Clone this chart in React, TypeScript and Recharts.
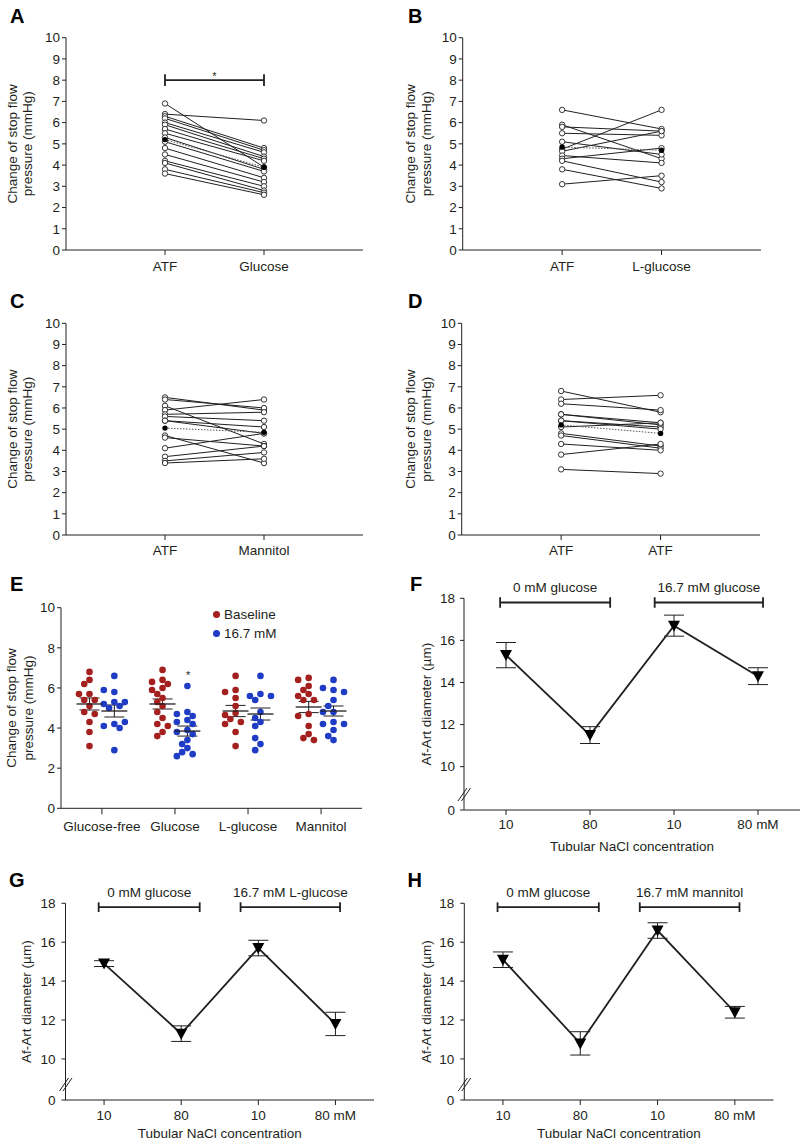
import React from "react";
import {
  ScatterChart,
  Scatter,
  LineChart,
  Line,
  XAxis,
  YAxis,
  ReferenceLine,
  ReferenceDot,
  ErrorBar,
  Legend,
} from "recharts";

const FONT = '"Liberation Sans", Arial, Helvetica, sans-serif';
const INK = "#231f20";
const RED = "#a3201f";
const BLUE = "#1f3cc4";

// A: ATF -> 16.7 mM glucose (paired, same index = same nephron)
const atfA = [6.9, 6.4, 6.3, 6.2, 6.0, 5.9, 5.7, 5.5, 5.3, 5.1, 4.8, 4.5, 4.2, 4.1, 3.8, 3.6];
const glucoseA = [3.9, 6.1, 4.8, 4.7, 4.6, 4.4, 4.3, 4.2, 3.8, 3.7, 3.4, 3.2, 3.0, 2.8, 2.7, 2.6];
const meanA = [5.2, 3.9];

// B: ATF -> L-glucose
const atfB = [6.6, 5.9, 5.8, 5.5, 5.1, 4.75, 4.65, 4.45, 4.3, 4.2, 3.8, 3.1];
const lglucoseB = [5.7, 4.3, 5.6, 5.4, 4.5, 6.6, 5.6, 4.1, 4.8, 3.2, 2.9, 3.5];
const meanB = [4.85, 4.7];

// C: ATF -> mannitol
const atfC = [6.5, 6.4, 6.1, 5.9, 5.7, 5.6, 5.4, 5.4, 4.7, 4.6, 4.1, 3.7, 3.5, 3.4];
const mannitolC = [5.9, 6.0, 4.3, 6.4, 5.8, 5.4, 5.1, 4.8, 3.4, 4.2, 4.8, 4.2, 3.9, 3.6];
const meanC = [5.05, 4.85];

// D: ATF -> ATF (time control)
const atfD = [6.8, 6.4, 6.2, 5.7, 5.7, 5.4, 5.4, 5.1, 4.8, 4.7, 4.3, 3.8, 3.1];
const atfD2 = [5.8, 6.6, 5.9, 5.3, 5.2, 5.1, 5.0, 5.3, 4.2, 4.1, 4.0, 4.3, 2.9];
const meanD = [5.2, 4.8];

// E: summary of A-D
const eCategories = ["Glucose-free", "Glucose", "L-glucose", "Mannitol"];
const eBaseline = [atfD, atfA, atfB, atfC];
const eHigh = [atfD2, glucoseA, lglucoseB, mannitolC];
const eBaseMean = [5.2, 5.2, 4.85, 5.05];
const eBaseSem = [0.3, 0.25, 0.28, 0.28];
const eHighMean = [4.85, 3.85, 4.7, 4.85];
const eHighSem = [0.3, 0.25, 0.3, 0.25];

// F-H: Af-Art diameter (um)
const naclTicks = ["10", "80", "10", "80 mM"];
const diamF = [15.3, 11.5, 16.7, 14.3];
const semF = [0.6, 0.4, 0.5, 0.4];
const diamG = [14.9, 11.3, 15.7, 11.8];
const semG = [0.15, 0.4, 0.4, 0.6];
const diamH = [15.1, 10.8, 16.6, 12.4];
const semH = [0.4, 0.6, 0.4, 0.3];

const tickStyle = { fill: INK, fontSize: 13.5, fontFamily: FONT };

function yTitle(lines: string[], xs: number[], cy: number) {
  return () => (
    <g>
      {lines.map((t, i) => (
        <text
          key={i}
          x={xs[i]}
          y={cy}
          transform={`rotate(-90 ${xs[i]} ${cy})`}
          textAnchor="middle"
          dominantBaseline="central"
          fill={INK}
          fontSize={13.5}
          fontFamily={FONT}
        >
          {t}
        </text>
      ))}
    </g>
  );
}

function xTitle(text: string, cx: number, y: number) {
  return () => (
    <text x={cx} y={y} textAnchor="middle" fill={INK} fontSize={13.5} fontFamily={FONT}>
      {text}
    </text>
  );
}

function Letter({ ch, left, baseline }: { ch: string; left: number; baseline: number }) {
  return (
    <div
      style={{
        position: "absolute",
        left,
        top: baseline - 16.9,
        fontSize: 20,
        lineHeight: "20px",
        fontWeight: "bold",
        fontFamily: FONT,
        color: "#000",
      }}
    >
      {ch}
    </div>
  );
}

const noShape = () => <g />;
const openDot = (p: any) => (
  <circle cx={p.cx} cy={p.cy} r={2.7} fill="#fff" stroke={INK} strokeWidth={0.9} />
);
const filledDot = (p: any) => <circle cx={p.cx} cy={p.cy} r={2.7} fill="#000" />;

type Plot = { left: number; right: number; top: number; bottom: number };

function PairedPanel(props: {
  x: number;
  y: number;
  plot: Plot;
  before: number[];
  after: number[];
  means: number[];
  names: string[];
  titleXs: number[];
  tickGap: number;
  star?: boolean;
}) {
  const { x, y, plot, before, after, means, names, titleXs, tickGap, star } = props;
  const W = 400;
  const H = 290;
  const cy = (plot.top + plot.bottom) / 2;
  const pairs = before.map((v, i) => [
    { x: 1, y: v },
    { x: 2, y: after[i] },
  ]);
  const open = [...before.map((v) => ({ x: 1, y: v })), ...after.map((v) => ({ x: 2, y: v }))];
  const meanPts = means.map((v, i) => ({ x: i + 1, y: v }));
  return (
    <div style={{ position: "absolute", left: x, top: y, width: W, height: H }}>
      <ScatterChart
        width={W}
        height={H}
        margin={{ top: plot.top, right: W - plot.right, bottom: 0, left: 0 }}
      >
        <XAxis
          type="number"
          dataKey="x"
          domain={[0, 3]}
          ticks={[1, 2]}
          interval={0}
          tickFormatter={(v: number) => names[v - 1]}
          height={H - plot.bottom}
          stroke={INK}
          tickSize={5}
          tickMargin={tickGap - 5}
          tick={tickStyle}
        />
        <YAxis
          type="number"
          dataKey="y"
          domain={[0, 10]}
          ticks={[0, 1, 2, 3, 4, 5, 6, 7, 8, 9, 10]}
          interval={0}
          width={plot.left}
          stroke={INK}
          tickSize={4}
          tickMargin={2}
          tick={tickStyle}
          label={yTitle(["Change of stop flow", "pressure (mmHg)"], titleXs, cy)}
        />
        {pairs.map((d, i) => (
          <Scatter
            key={i}
            data={d}
            fill={INK}
            line={{ stroke: INK, strokeWidth: 1 }}
            shape={noShape}
            isAnimationActive={false}
          />
        ))}
        <Scatter
          data={meanPts}
          fill="#555"
          line={{ stroke: "#555", strokeWidth: 1, strokeDasharray: "1.5 1.5" }}
          shape={noShape}
          isAnimationActive={false}
        />
        <Scatter data={open} shape={openDot} isAnimationActive={false} />
        <Scatter data={meanPts} shape={filledDot} isAnimationActive={false} />
        {star && (
          <>
            <ReferenceLine
              segment={[
                { x: 1, y: 8 },
                { x: 2, y: 8 },
              ]}
              stroke={INK}
              strokeWidth={1.8}
              ifOverflow="visible"
              label={{ value: "*", position: "top", offset: 0, fill: INK, fontSize: 11, fontFamily: FONT }}
            />
            <ReferenceLine
              segment={[
                { x: 1, y: 7.72 },
                { x: 1, y: 8.28 },
              ]}
              stroke={INK}
              strokeWidth={1.8}
              ifOverflow="visible"
            />
            <ReferenceLine
              segment={[
                { x: 2, y: 7.72 },
                { x: 2, y: 8.28 },
              ]}
              stroke={INK}
              strokeWidth={1.8}
              ifOverflow="visible"
            />
          </>
        )}
      </ScatterChart>
    </div>
  );
}

// simple beeswarm placement so equal values do not sit on top of each other
function swarm(values: number[], center: number) {
  const pxX = 73.06;
  const pxY = 20.06;
  const step = 0.072;
  const placed: { x: number; y: number }[] = [];
  values.forEach((v) => {
    for (let k = 0; k < 30; k++) {
      const off = k === 0 ? 0 : (k % 2 ? -1 : 1) * Math.ceil(k / 2) * step;
      const px = center + off;
      const ok = placed.every((p) => Math.hypot((p.x - px) * pxX, (p.y - v) * pxY) >= 6.2);
      if (ok) {
        placed.push({ x: px, y: v });
        break;
      }
    }
  });
  return placed;
}

const colorDot = (c: string) => (p: any) => <circle cx={p.cx} cy={p.cy} r={3.3} fill={c} />;
const meanMark = (p: any) => (
  <line x1={p.cx - 13} x2={p.cx + 13} y1={p.cy} y2={p.cy} stroke={INK} strokeWidth={1.3} />
);

function GroupPanel() {
  const W = 400;
  const H = 290;
  const plot = { left: 61, right: 362, top: 37.7, bottom: 238.3 };
  const cy = (plot.top + plot.bottom) / 2;
  const redDots = eBaseline.flatMap((vals, i) => swarm(vals, i + 1 - 0.17));
  const blueDots = eHigh.flatMap((vals, i) => swarm(vals, i + 1 + 0.17));
  const baseMeans = eBaseMean.map((m, i) => ({ x: i + 1 - 0.17, y: m, err: eBaseSem[i] }));
  const highMeans = eHighMean.map((m, i) => ({ x: i + 1 + 0.17, y: m, err: eHighSem[i] }));
  const legendItems = [
    { name: "Baseline", color: RED },
    { name: "16.7 mM", color: BLUE },
  ];
  return (
    <div style={{ position: "absolute", left: 0, top: 570, width: W, height: H }}>
      <ScatterChart
        width={W}
        height={H}
        margin={{ top: plot.top, right: W - plot.right, bottom: 0, left: 0 }}
      >
        <XAxis
          type="number"
          dataKey="x"
          domain={[0.44, 4.56]}
          ticks={[1, 2, 3, 4]}
          interval={0}
          tickFormatter={(v: number) => eCategories[v - 1]}
          height={H - plot.bottom}
          stroke={INK}
          tickSize={6}
          tickMargin={7.4}
          tick={tickStyle}
        />
        <YAxis
          type="number"
          dataKey="y"
          domain={[0, 10]}
          ticks={[0, 2, 4, 6, 8, 10]}
          interval={0}
          width={plot.left}
          stroke={INK}
          tickSize={4}
          tickMargin={2}
          tick={tickStyle}
          label={yTitle(["Change of stop flow", "pressure (mmHg)"], [11, 28], cy)}
        />
        <Scatter data={redDots} shape={colorDot(RED)} isAnimationActive={false} />
        <Scatter data={blueDots} shape={colorDot(BLUE)} isAnimationActive={false} />
        <Scatter data={baseMeans} shape={meanMark} isAnimationActive={false}>
          <ErrorBar dataKey="err" direction="y" width={10} stroke={INK} strokeWidth={1} />
        </Scatter>
        <Scatter data={highMeans} shape={meanMark} isAnimationActive={false}>
          <ErrorBar dataKey="err" direction="y" width={10} stroke={INK} strokeWidth={1} />
        </Scatter>
        <ReferenceDot
          x={2.18}
          y={6.62}
          r={1}
          fill="none"
          stroke="none"
          ifOverflow="visible"
          label={{ value: "*", position: "center", fill: INK, fontSize: 11, fontFamily: FONT }}
        />
        <Legend
          layout="vertical"
          align="center"
          verticalAlign="middle"
          wrapperStyle={{ left: 0, top: 0, width: 0, height: 0 }}
          content={() => (
            <div
              style={{
                position: "absolute",
                left: 212.5,
                top: 34.5,
                fontFamily: FONT,
                fontSize: 13.5,
                color: INK,
                lineHeight: "19px",
                whiteSpace: "nowrap",
              }}
            >
              {legendItems.map((it) => (
                <div key={it.name} style={{ display: "flex", alignItems: "center", height: 19 }}>
                  <span
                    style={{
                      display: "inline-block",
                      width: 7,
                      height: 7,
                      borderRadius: "50%",
                      background: it.color,
                      marginRight: 4.5,
                    }}
                  />
                  {it.name}
                </div>
              ))}
            </div>
          )}
        />
      </ScatterChart>
    </div>
  );
}

const triangle = (p: any) => (
  <path
    key={p.index}
    d={`M${p.cx - 6},${p.cy - 5} L${p.cx + 6},${p.cy - 5} L${p.cx},${p.cy + 6} Z`}
    fill="#000"
  />
);

function LinePanel(props: {
  x: number;
  y: number;
  W: number;
  H: number;
  plot: Plot;
  zero: number;
  means: number[];
  sems: number[];
  groups: string[];
  titleX: number;
  xTitleY: number;
  tickGap: number;
  yTickMargin: number;
}) {
  const { x, y, W, H, plot, zero, means, sems, groups, titleX, xTitleY, tickGap, yTickMargin } = props;
  const data = means.map((m, i) => ({ x: i + 1, y: m, err: sems[i] }));
  const cy = (plot.top + plot.bottom) / 2;
  const cx = (plot.left + plot.right) / 2;
  const xUnit = (plot.right - plot.left) / 4;
  const yUnit = (plot.bottom - plot.top) / (18 - zero);
  const brackets = [
    [0.93, 2.24],
    [2.77, 4.06],
  ];
  const seg = (x1: number, y1: number, x2: number, y2: number, w: number, key: string, label?: any) => (
    <ReferenceLine
      key={key}
      segment={[
        { x: x1, y: y1 },
        { x: x2, y: y2 },
      ]}
      stroke={INK}
      strokeWidth={w}
      ifOverflow="visible"
      label={label}
    />
  );
  return (
    <div style={{ position: "absolute", left: x, top: y, width: W, height: H }}>
      <LineChart
        width={W}
        height={H}
        data={data}
        margin={{ top: plot.top, right: W - plot.right, bottom: 0, left: 0 }}
      >
        <XAxis
          type="number"
          dataKey="x"
          domain={[0.5, 4.5]}
          ticks={[1, 2, 3, 4]}
          interval={0}
          tickFormatter={(v: number) => naclTicks[v - 1]}
          height={H - plot.bottom}
          stroke={INK}
          tickSize={5}
          tickMargin={tickGap - 5}
          tick={tickStyle}
          label={xTitle("Tubular NaCl concentration", cx, xTitleY)}
        />
        <YAxis
          type="number"
          domain={[zero, 18]}
          ticks={[zero, 10, 12, 14, 16, 18]}
          interval={0}
          tickFormatter={(v: number) => (v < 9 ? "0" : String(v))}
          width={plot.left}
          stroke={INK}
          tickSize={4}
          tickMargin={yTickMargin}
          tick={tickStyle}
          label={yTitle(["Af-Art diameter (µm)"], [titleX], cy)}
        />
        {[0, 1].map((i) =>
          seg(
            0.5 + (-6 + 3.5 * i) / xUnit,
            zero + 9 / yUnit,
            0.5 + (3 + 3.5 * i) / xUnit,
            zero + 22 / yUnit,
            1,
            `brk${i}`
          )
        )}
        {brackets.map(([a, b], i) => (
          <React.Fragment key={i}>
            {seg(a, 17.8, b, 17.8, 1.8, `h${i}`, {
              value: groups[i],
              position: "top",
              offset: 10.5,
              fill: INK,
              fontSize: 13.5,
              fontFamily: FONT,
            })}
            {seg(a, 17.55, a, 18.05, 1.8, `l${i}`)}
            {seg(b, 17.55, b, 18.05, 1.8, `r${i}`)}
          </React.Fragment>
        ))}
        <Line
          dataKey="y"
          stroke={INK}
          strokeWidth={1.8}
          dot={triangle}
          activeDot={false}
          isAnimationActive={false}
        >
          <ErrorBar dataKey="err" direction="y" width={10} stroke={INK} strokeWidth={1} />
        </Line>
      </LineChart>
    </div>
  );
}

export default function App() {
  return (
    <div
      style={{
        position: "absolute",
        left: 0,
        top: 0,
        width: 801,
        height: 1141,
        background: "#fff",
        overflow: "hidden",
        fontFamily: FONT,
      }}
    >
      <PairedPanel
        x={0}
        y={0}
        plot={{ left: 66, right: 363, top: 37.7, bottom: 250 }}
        before={atfA}
        after={glucoseA}
        means={meanA}
        names={["ATF", "Glucose"]}
        titleXs={[12.5, 28]}
        tickGap={11.7}
        star
      />
      <PairedPanel
        x={400}
        y={0}
        plot={{ left: 62.7, right: 361, top: 37.7, bottom: 250 }}
        before={atfB}
        after={lglucoseB}
        means={meanB}
        names={["ATF", "L-glucose"]}
        titleXs={[11, 27]}
        tickGap={11.7}
      />
      <PairedPanel
        x={0}
        y={290}
        plot={{ left: 66, right: 363, top: 33.3, bottom: 245 }}
        before={atfC}
        after={mannitolC}
        means={meanC}
        names={["ATF", "Mannitol"]}
        titleXs={[12.5, 28]}
        tickGap={10}
      />
      <PairedPanel
        x={400}
        y={290}
        plot={{ left: 61.7, right: 360, top: 33.3, bottom: 245 }}
        before={atfD}
        after={atfD2}
        means={meanD}
        names={["ATF", "ATF"]}
        titleXs={[11, 27]}
        tickGap={10}
      />
      <GroupPanel />
      <LinePanel
        x={400}
        y={570}
        W={401}
        H={290}
        plot={{ left: 64, right: 400, top: 28.3, bottom: 240 }}
        zero={7.94}
        means={diamF}
        sems={semF}
        groups={["0 mM glucose", "16.7 mM glucose"]}
        titleX={26.5}
        xTitleY={281}
        tickGap={9}
        yTickMargin={5}
      />
      <LinePanel
        x={0}
        y={860}
        W={400}
        H={281}
        plot={{ left: 65.5, right: 374, top: 43.3, bottom: 240 }}
        zero={7.89}
        means={diamG}
        sems={semG}
        groups={["0 mM glucose", "16.7 mM L-glucose"]}
        titleX={27}
        xTitleY={277.5}
        tickGap={10}
        yTickMargin={6}
      />
      <LinePanel
        x={400}
        y={860}
        W={400}
        H={281}
        plot={{ left: 64.3, right: 373.5, top: 43.3, bottom: 240 }}
        zero={7.89}
        means={diamH}
        sems={semH}
        groups={["0 mM glucose", "16.7 mM mannitol"]}
        titleX={27}
        xTitleY={277.5}
        tickGap={10}
        yTickMargin={6}
      />
      <Letter ch="A" left={10} baseline={22.7} />
      <Letter ch="B" left={408} baseline={22.7} />
      <Letter ch="C" left={10} baseline={308.3} />
      <Letter ch="D" left={408} baseline={308.3} />
      <Letter ch="E" left={10} baseline={590.7} />
      <Letter ch="F" left={410} baseline={590.7} />
      <Letter ch="G" left={9} baseline={886.7} />
      <Letter ch="H" left={407.5} baseline={886.7} />
    </div>
  );
}
